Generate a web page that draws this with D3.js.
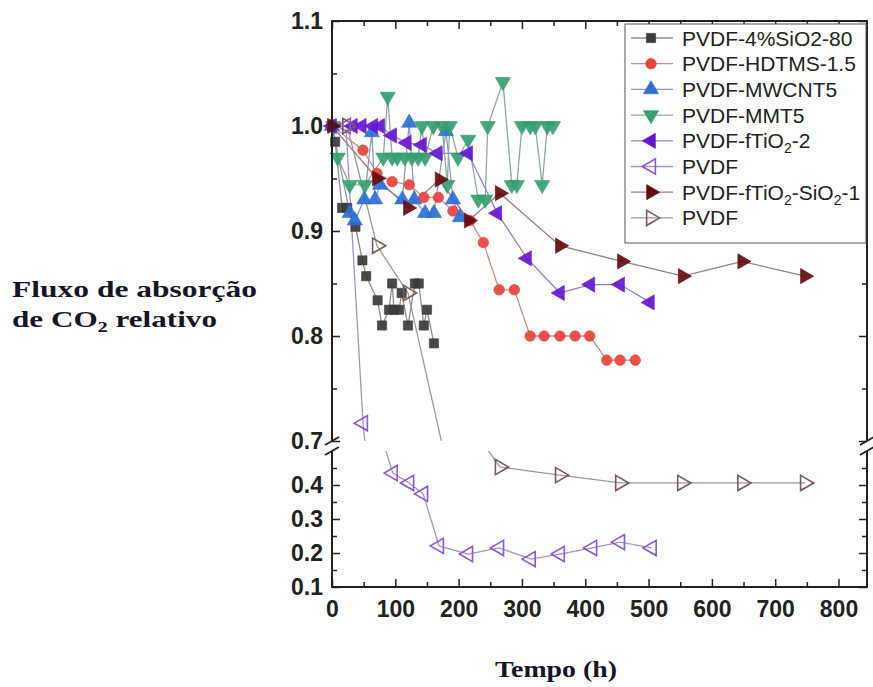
<!DOCTYPE html>
<html>
<head>
<meta charset="utf-8">
<script src="https://cdn.jsdelivr.net/npm/d3@7"></script>
<style>
  body { margin: 0; background: #fff; }
</style>
</head>
<body>
<svg id="chart" width="873" height="687"></svg>
<script>
// ---- data ----
// labels: odd-indexed parts are subscripts
var seriesLabels = [
  ['PVDF-4%SiO2-80'],
  ['PVDF-HDTMS-1.5'],
  ['PVDF-MWCNT5'],
  ['PVDF-MMT5'],
  ['PVDF-fTiO', '2', '-2'],
  ['PVDF'],
  ['PVDF-fTiO', '2', '-SiO', '2', '-1'],
  ['PVDF']
]

var sio2Time = [0, 5, 16, 24, 37, 48, 54, 72, 79, 90, 95, 98, 106, 110, 120, 131, 137, 145, 150, 161]
var sio2Flux = [1.0, 0.985, 0.922, 0.922, 0.904, 0.872, 0.857, 0.834, 0.810, 0.825, 0.850, 0.825, 0.825, 0.841, 0.810, 0.850, 0.850, 0.810, 0.825, 0.793]

var hdtmsTime = [0, 49, 71, 95, 122, 145, 168, 191, 218, 239, 264, 288, 313, 335, 360, 384, 407, 434, 455, 479]
var hdtmsFlux = [1.0, 0.977, 0.955, 0.947, 0.944, 0.932, 0.932, 0.919, 0.910, 0.889, 0.844, 0.844, 0.800, 0.800, 0.800, 0.800, 0.800, 0.777, 0.777, 0.777]

var mwcntTime = [0, 28, 36, 51, 63, 68, 76, 111, 122, 130, 147, 161, 180, 191, 202]
var mwcntFlux = [1.0, 0.917, 0.910, 0.930, 0.994, 0.930, 0.944, 0.930, 1.003, 0.930, 0.917, 0.917, 0.995, 0.930, 0.913]

var mmtTime = [2, 9, 28, 52, 81, 88, 95, 103, 115, 126, 136, 142, 147, 160, 174, 182, 186, 199, 215, 231, 242, 246, 270, 284, 292, 300, 313, 321, 332, 340, 349]
var mmtFlux = [1.0, 0.97, 0.944, 0.944, 0.97, 1.028, 0.97, 0.97, 0.97, 0.97, 0.97, 1.0, 0.97, 1.0, 1.0, 0.944, 1.0, 0.97, 0.987, 0.93, 0.93, 1.0, 1.042, 0.944, 0.944, 1.0, 1.0, 1.0, 0.944, 1.0, 1.0]

var tio2Time = [0, 33, 47, 65, 76, 95, 118, 142, 167, 215, 261, 308, 360, 408, 455, 502]
var tio2Flux = [1.0, 1.0, 1.0, 1.0, 1.0, 0.991, 0.984, 0.982, 0.974, 0.974, 0.917, 0.874, 0.841, 0.849, 0.849, 0.832]

var pvdfATime = [22, 49, 96, 122, 144, 169, 215, 264, 314, 360, 411, 455, 505]
var pvdfAFlux = [1.0, 0.717, 0.435, 0.406, 0.374, 0.221, 0.197, 0.215, 0.182, 0.197, 0.215, 0.232, 0.215]

var tio2Sio2Time = [0, 71, 120, 170, 216, 265, 360, 458, 554, 648, 747]
var tio2Sio2Flux = [1.0, 0.950, 0.922, 0.949, 0.910, 0.936, 0.886, 0.871, 0.857, 0.871, 0.857]

var pvdfBTime = [24, 71, 120, 265, 360, 455, 553, 648, 747]
var pvdfBFlux = [1.0, 0.886, 0.841, 0.453, 0.429, 0.406, 0.406, 0.406, 0.406]

var xTicks = [0, 100, 200, 300, 400, 500, 600, 700, 800]
var xMinor = [50, 150, 250, 350, 450, 550, 650, 750]
var yUpTicks = [0.7, 0.8, 0.9, 1.0, 1.1]
var yUpMinor = [0.75, 0.85, 0.95, 1.05]
var yLowTicks = [0.1, 0.2, 0.3, 0.4]
var yLowMinor = [0.15, 0.25, 0.35, 0.45]

// ---- styles ----
var colors = ['#3b3b3b', '#e8433e', '#2b6fd6', '#35a070', '#6416d4', '#8a55d6', '#650a0e', '#7a5a5c']
var shapes = ['square', 'circle', 'up', 'down', 'left', 'left', 'right', 'right']
var hollow = [false, false, false, false, false, true, false, true]

var series = [
  [sio2Time, sio2Flux], [hdtmsTime, hdtmsFlux], [mwcntTime, mwcntFlux], [mmtTime, mmtFlux],
  [tio2Time, tio2Flux], [pvdfATime, pvdfAFlux], [tio2Sio2Time, tio2Sio2Flux], [pvdfBTime, pvdfBFlux]
].map(function (s, i) {
  return {
    label: seriesLabels[i],
    color: colors[i],
    shape: shapes[i],
    hollow: hollow[i],
    points: s[0].map(function (t, j) { return { t: t, v: s[1][j] } })
  }
})

// ---- layout ----
var plotLeft = 332, plotRight = 867, plotTop = 21, breakTop = 441, breakBottom = 451, plotBottom = 587

var svg = d3.select('#chart')
var sans = 'Arial, "Liberation Sans", sans-serif'
var serif = '"Liberation Serif", "Times New Roman", serif'

var x = d3.scaleLinear().domain([0, 845]).range([plotLeft, plotRight])
var yUp = d3.scaleLinear().domain([0.7, 1.1]).range([breakTop, plotTop])
var yLow = d3.scaleLinear().domain([0.1, 0.5]).range([plotBottom, breakBottom])

var defs = svg.append('defs')
defs.append('clipPath').attr('id', 'clip-up')
  .append('rect').attr('x', plotLeft).attr('y', plotTop)
  .attr('width', plotRight - plotLeft).attr('height', breakTop - plotTop)
defs.append('clipPath').attr('id', 'clip-low')
  .append('rect').attr('x', plotLeft).attr('y', breakBottom)
  .attr('width', plotRight - plotLeft).attr('height', plotBottom - breakBottom)

function symbolPath (shape, size) {
  var type = shape === 'square' ? d3.symbolSquare : shape === 'circle' ? d3.symbolCircle : d3.symbolTriangle
  return d3.symbol().type(type).size(size)()
}
function rotation (shape) {
  if (shape === 'down') return 180
  if (shape === 'left') return -90
  if (shape === 'right') return 90
  return 0
}
function sizeOf (shape) {
  if (shape === 'square') return 85
  if (shape === 'circle') return 88
  return 100
}
function lineColor (c) {
  return d3.interpolateRgb(c, '#b0b0b0')(0.7)
}

// ---- lines, drawn once per panel and clipped ----
var lineUp = d3.line().x(function (d) { return x(d.t) }).y(function (d) { return yUp(d.v) })
var lineLow = d3.line().x(function (d) { return x(d.t) }).y(function (d) { return yLow(d.v) })

var lines = svg.append('g')
series.forEach(function (s) {
  lines.append('path').attr('d', lineUp(s.points)).attr('clip-path', 'url(#clip-up)')
    .attr('fill', 'none').attr('stroke', lineColor(s.color)).attr('stroke-width', 1.3)
  lines.append('path').attr('d', lineLow(s.points)).attr('clip-path', 'url(#clip-low)')
    .attr('fill', 'none').attr('stroke', lineColor(s.color)).attr('stroke-width', 1.3)
})

// ---- markers ----
series.forEach(function (s) {
  svg.append('g').selectAll('path')
    .data(s.points)
    .enter()
    .append('path')
    .attr('d', symbolPath(s.shape, sizeOf(s.shape)))
    .attr('transform', function (d) {
      var yy = d.v >= 0.6 ? yUp(d.v) : yLow(d.v)
      return 'translate(' + x(d.t) + ',' + yy + ') rotate(' + rotation(s.shape) + ')'
    })
    .attr('fill', s.hollow ? '#fff' : s.color)
    .attr('fill-opacity', s.hollow ? 0 : 0.92)
    .attr('stroke', s.color)
    .attr('stroke-width', s.hollow ? 1.6 : 0.6)
})

// ---- axes ----
function styleAxis (g, labelled) {
  g.select('.domain').remove()
  g.selectAll('line').attr('stroke', '#222').attr('stroke-width', 1.5)
  g.selectAll('text').style('font-size', labelled ? '23px' : '0px').style('font-weight', 'bold')
    .style('font-family', sans).attr('fill', '#222')
}

var fmt = d3.format('.1f')

svg.append('g').attr('transform', 'translate(0,' + plotBottom + ')')
  .call(d3.axisBottom(x).tickValues(xTicks).tickSizeInner(-8).tickSizeOuter(0).tickPadding(14))
  .call(styleAxis, true)
svg.append('g').attr('transform', 'translate(0,' + plotBottom + ')')
  .call(d3.axisBottom(x).tickValues(xMinor).tickSizeInner(-5).tickSizeOuter(0).tickFormat(''))
  .call(styleAxis, false)
svg.append('g').attr('transform', 'translate(0,' + plotTop + ')')
  .call(d3.axisTop(x).tickValues(xTicks).tickSizeInner(-8).tickSizeOuter(0).tickFormat(''))
  .call(styleAxis, false)
svg.append('g').attr('transform', 'translate(0,' + plotTop + ')')
  .call(d3.axisTop(x).tickValues(xMinor).tickSizeInner(-5).tickSizeOuter(0).tickFormat(''))
  .call(styleAxis, false)

;[[yUp, yUpTicks, yUpMinor], [yLow, yLowTicks, yLowMinor]].forEach(function (p) {
  svg.append('g').attr('transform', 'translate(' + plotLeft + ',0)')
    .call(d3.axisLeft(p[0]).tickValues(p[1]).tickSizeInner(-8).tickSizeOuter(0).tickPadding(9).tickFormat(fmt))
    .call(styleAxis, true)
  svg.append('g').attr('transform', 'translate(' + plotLeft + ',0)')
    .call(d3.axisLeft(p[0]).tickValues(p[2]).tickSizeInner(-5).tickSizeOuter(0).tickFormat(''))
    .call(styleAxis, false)
  svg.append('g').attr('transform', 'translate(' + plotRight + ',0)')
    .call(d3.axisRight(p[0]).tickValues(p[1]).tickSizeInner(-8).tickSizeOuter(0).tickFormat(''))
    .call(styleAxis, false)
  svg.append('g').attr('transform', 'translate(' + plotRight + ',0)')
    .call(d3.axisRight(p[0]).tickValues(p[2]).tickSizeInner(-5).tickSizeOuter(0).tickFormat(''))
    .call(styleAxis, false)
})

// frame with the break
var frame = svg.append('g').attr('stroke', '#222').attr('stroke-width', 2).attr('fill', 'none')
frame.append('path').attr('d',
  'M' + plotLeft + ',' + breakTop + 'V' + plotTop + 'H' + plotRight + 'V' + breakTop +
  'M' + plotLeft + ',' + breakBottom + 'V' + plotBottom + 'H' + plotRight + 'V' + breakBottom)
;[plotLeft, plotRight].forEach(function (xx) {
  ;[breakTop, breakBottom].forEach(function (yy) {
    frame.append('line').attr('x1', xx - 7).attr('y1', yy + 4).attr('x2', xx + 7).attr('y2', yy - 4)
      .attr('stroke-width', 1.8)
  })
})

// ---- legend ----
var legend = svg.append('g')
legend.append('rect').attr('x', 625).attr('y', 24).attr('width', 241).attr('height', 219)
  .attr('fill', '#fff').attr('stroke', '#555').attr('stroke-width', 1)

series.forEach(function (s, i) {
  var yy = 38 + i * 25.7
  legend.append('line').attr('x1', 631).attr('x2', 673).attr('y1', yy).attr('y2', yy)
    .attr('stroke', lineColor(s.color)).attr('stroke-width', 1.3)
  legend.append('path').attr('d', symbolPath(s.shape, sizeOf(s.shape)))
    .attr('transform', 'translate(651,' + yy + ') rotate(' + rotation(s.shape) + ')')
    .attr('fill', s.hollow ? 'none' : s.color)
    .attr('stroke', s.color).attr('stroke-width', s.hollow ? 1.6 : 0.6)
  var t = legend.append('text').attr('x', 682).attr('y', yy + 7.5)
    .style('font-family', sans).style('font-size', '21px').attr('fill', '#222')
  s.label.forEach(function (part, k) {
    if (k % 2 === 1) {
      t.append('tspan').style('font-size', '14px').attr('dy', 5).text(part)
    } else {
      t.append('tspan').attr('dy', k === 0 ? 0 : -5).text(part)
    }
  })
})

// ---- titles ----
function titleText (xx, yy, len) {
  return svg.append('text').attr('x', xx).attr('y', yy)
    .style('font-family', serif).style('font-weight', 'bold').style('font-size', '23px')
    .attr('fill', '#151525')
    .attr('textLength', len).attr('lengthAdjust', 'spacingAndGlyphs')
}
titleText(12, 297, 245).text('Fluxo de absorção')
var yt2 = titleText(12, 327, 205)
yt2.append('tspan').text('de CO')
yt2.append('tspan').style('font-size', '15px').attr('dy', 5).text('2')
yt2.append('tspan').attr('dy', -5).text(' relativo')

titleText(495, 677, 122).text('Tempo (h)')
</script>
</body>
</html>
